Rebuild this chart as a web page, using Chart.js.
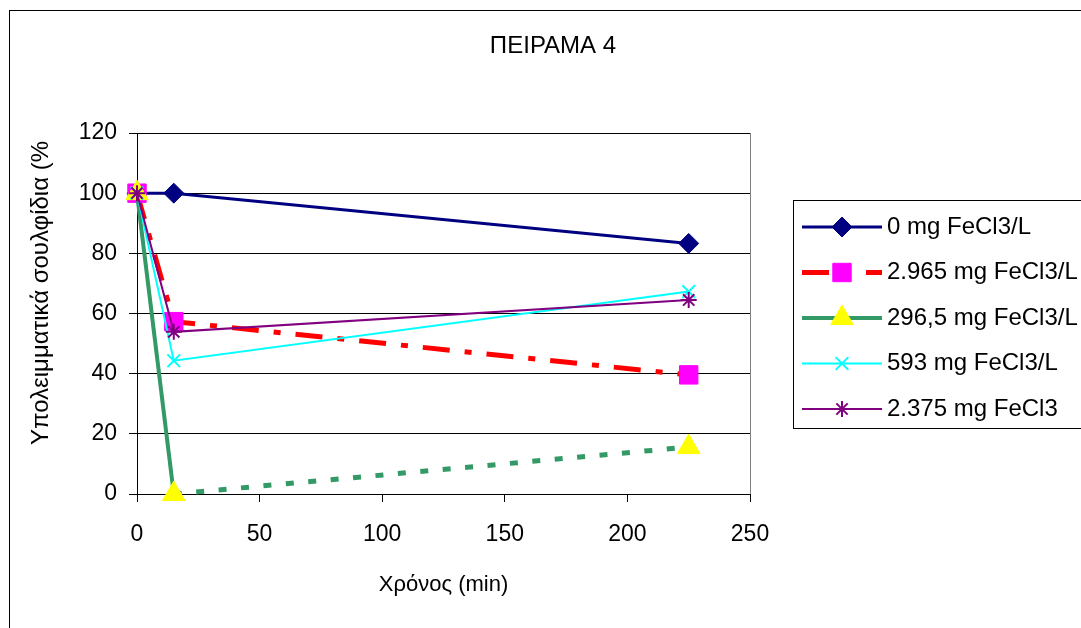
<!DOCTYPE html>
<html>
<head>
<meta charset="utf-8">
<script src="https://cdn.jsdelivr.net/npm/chart.js@4.4.0/dist/chart.umd.min.js"></script>
<style>
    html, body { margin: 0; padding: 0; background: #fff; }
    #wrap { width: 1081px; height: 628px; }
</style>
</head>
<body>
<div id="wrap"><canvas id="chart" width="1081" height="628"></canvas></div>
<script>
const chartTitle = "ΠΕΙΡΑΜΑ 4";
const yTitle = "Υπολειμματικά σουλφίδια (%";
const xTitle = "Χρόνος (min)";

const times = [0, 15, 225];
const seriesNames = [
    "0 mg FeCl3/L",
    "2.965 mg FeCl3/L",
    "296,5 mg FeCl3/L",
    "593 mg FeCl3/L",
    "2.375 mg FeCl3"
];
const fe0 = [100, 100, 83.3];
const fe2965 = [100, 57.3, 39.6];
const fe2965c = [100, 0, 15.6];
const fe593 = [100, 44.3, 67.3];
const fe2375 = [100, 53.9, 64.5];

const yTicks = [0, 20, 40, 60, 80, 100, 120];
const xTicks = [0, 50, 100, 150, 200, 250];

function pts(values) {
    return values.map((v, i) => ({ x: times[i], y: v }));
}

const FONT = "'Liberation Sans', Arial, sans-serif";

// title, y title, plot border and legend box
const decorations = {
    id: "decorations",
    beforeDatasetsDraw(chart) {
        const { ctx, chartArea } = chart;
        ctx.save();
        ctx.strokeStyle = "#808080";
        ctx.lineWidth = 1;
        ctx.beginPath();
        ctx.moveTo(chartArea.right + 0.5, chartArea.top);
        ctx.lineTo(chartArea.right + 0.5, chartArea.bottom);
        ctx.stroke();
        ctx.restore();
    },
    afterDraw(chart) {
        const { ctx } = chart;
        ctx.save();

        // outer frame
        ctx.strokeStyle = "#000";
        ctx.lineWidth = 1;
        ctx.strokeRect(9.5, 10.5, 1200, 800);

        ctx.fillStyle = "#000";
        ctx.font = "24px " + FONT;
        ctx.textAlign = "center";
        ctx.textBaseline = "middle";
        ctx.fillText(chartTitle, 553, 46);

        // y axis title
        ctx.save();
        ctx.translate(41, 293);
        ctx.rotate(-Math.PI / 2);
        ctx.font = "24px " + FONT;
        ctx.fillText(yTitle, 0, 0);
        ctx.restore();

        // legend
        ctx.strokeStyle = "#000";
        ctx.lineWidth = 1;
        ctx.strokeRect(793.5, 200.5, 400, 228);
        chart.data.datasets.forEach((ds, i) => {
            const y = 227 + i * 45.5;
            ctx.save();
            ctx.strokeStyle = ds.borderColor;
            ctx.lineWidth = ds.borderWidth;
            ctx.setLineDash(ds.borderDash || []);
            ctx.beginPath();
            ctx.moveTo(802, y);
            ctx.lineTo(882, y);
            ctx.stroke();
            ctx.restore();

            ctx.save();
            ctx.fillStyle = ds.pointBackgroundColor;
            ctx.strokeStyle = ds.pointBorderColor;
            ctx.lineWidth = ds.pointBorderWidth;
            Chart.helpers.drawPoint(ctx, {
                pointStyle: ds.pointStyle,
                radius: ds.pointRadius,
                rotation: 0,
                borderWidth: ds.pointBorderWidth
            }, 842, y);
            ctx.restore();
        });
        ctx.fillStyle = "#000";
        ctx.font = "24px " + FONT;
        ctx.textAlign = "left";
        ctx.textBaseline = "middle";
        seriesNames.forEach((name, i) => {
            ctx.fillText(name, 887, 227 + i * 45.5);
        });
        ctx.restore();
    }
};

const ctx = document.getElementById("chart").getContext("2d");

new Chart(ctx, {
    type: "line",
    data: {
        datasets: [
            {
                label: seriesNames[0],
                data: pts(fe0),
                borderColor: "#000080",
                borderWidth: 3,
                pointStyle: "rectRot",
                pointRadius: 10,
                pointBackgroundColor: "#000080",
                pointBorderColor: "#000080",
                pointBorderWidth: 1,
                order: 4
            },
            {
                label: seriesNames[1],
                data: pts(fe2965),
                borderColor: "#FF0000",
                borderWidth: 5,
                borderDash: [27, 15, 7, 15],
                pointStyle: "rect",
                pointRadius: 13,
                pointBackgroundColor: "#FF00FF",
                pointBorderColor: "#FF00FF",
                pointBorderWidth: 1,
                order: 3
            },
            {
                label: seriesNames[2],
                data: pts(fe2965c),
                borderColor: "#339966",
                borderWidth: 4,
                segment: {
                    borderDash: c => c.p0DataIndex >= 1 ? [8, 14.5] : undefined,
                    borderWidth: c => c.p0DataIndex >= 1 ? 5 : undefined
                },
                pointStyle: "triangle",
                pointRadius: 13,
                pointBackgroundColor: "#FFFF00",
                pointBorderColor: "#FFFF00",
                pointBorderWidth: 1,
                order: 2
            },
            {
                label: seriesNames[3],
                data: pts(fe593),
                borderColor: "#00FFFF",
                borderWidth: 2,
                pointStyle: "crossRot",
                pointRadius: 9,
                pointBackgroundColor: "#00FFFF",
                pointBorderColor: "#00FFFF",
                pointBorderWidth: 2,
                order: 1
            },
            {
                label: seriesNames[4],
                data: pts(fe2375),
                borderColor: "#800080",
                borderWidth: 2,
                pointStyle: "star",
                pointRadius: 8,
                pointBackgroundColor: "#800080",
                pointBorderColor: "#800080",
                pointBorderWidth: 2,
                order: 0
            }
        ]
    },
    options: {
        responsive: false,
        animation: false,
        events: [],
        clip: false,
        elements: {
            line: { tension: 0, fill: false },
            point: { hoverRadius: 0 }
        },
        layout: {
            padding: { left: 23, top: 133, right: 331, bottom: 26 }
        },
        scales: {
            x: {
                type: "linear",
                min: 0,
                max: 250,
                afterFit: s => { s.height = 108; },
                afterBuildTicks: s => { s.ticks = xTicks.map(v => ({ value: v })); },
                grid: {
                    drawOnChartArea: false,
                    color: "#000",
                    tickLength: 8
                },
                border: { color: "#000", width: 1 },
                ticks: {
                    color: "#000",
                    font: { family: FONT, size: 23 },
                    padding: 19,
                    maxRotation: 0
                },
                title: {
                    display: true,
                    text: xTitle,
                    color: "#000",
                    font: { family: FONT, size: 22 }
                }
            },
            y: {
                min: 0,
                max: 120,
                afterFit: s => { s.width = 114; },
                afterBuildTicks: s => { s.ticks = yTicks.map(v => ({ value: v })); },
                grid: {
                    color: "#000",
                    tickLength: 8
                },
                border: { color: "#000", width: 1 },
                ticks: {
                    color: "#000",
                    font: { family: FONT, size: 23 },
                    padding: 12
                }
            }
        },
        plugins: {
            legend: { display: false },
            title: { display: false },
            tooltip: { enabled: false }
        }
    },
    plugins: [decorations]
});
</script>
</body>
</html>
